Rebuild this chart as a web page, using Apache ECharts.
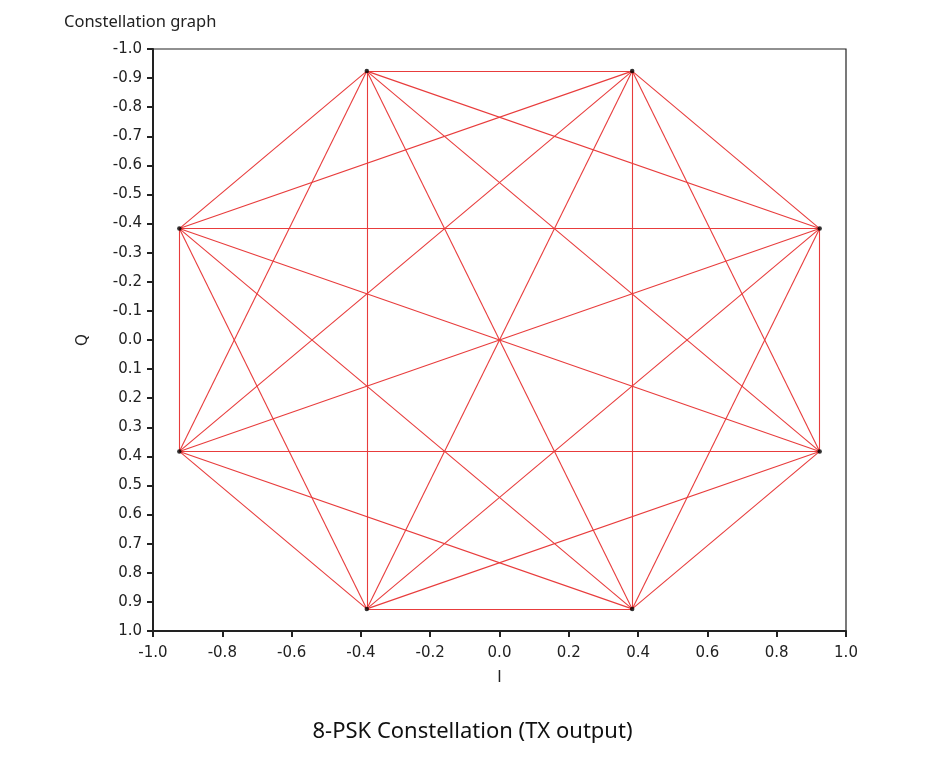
<!DOCTYPE html>
<html>
<head>
<meta charset="utf-8">
<script src="https://cdn.jsdelivr.net/npm/echarts@6/dist/echarts.min.js"></script>
<style>
html,body{margin:0;padding:0;background:#fff;}
#chart{width:945px;height:765px;}
</style>
</head>
<body>
<div id="chart"></div>
<script>
// 8-PSK constellation symbols (I, Q)
const symbolI = [0.924, 0.383, -0.383, -0.924, -0.924, -0.383, 0.383, 0.924];
const symbolQ = [0.383, 0.924, 0.924, 0.383, -0.383, -0.924, -0.924, -0.383];
const xTicks = [-1.0, -0.8, -0.6, -0.4, -0.2, 0.0, 0.2, 0.4, 0.6, 0.8, 1.0];
const yTicks = [-1.0, -0.9, -0.8, -0.7, -0.6, -0.5, -0.4, -0.3, -0.2, -0.1, 0.0, 0.1, 0.2, 0.3, 0.4, 0.5, 0.6, 0.7, 0.8, 0.9, 1.0];

// transitions between every pair of symbols
const edges = [];
for (let a = 0; a < symbolI.length; a++) {
  for (let b = a + 1; b < symbolI.length; b++) {
    edges.push({coords: [[symbolI[a], symbolQ[a]], [symbolI[b], symbolQ[b]]]});
  }
}
const pts = symbolI.map((v, i) => [v, symbolQ[i]]);

const fmt = v => { if (Math.abs(v) < 1e-9) return '0.0'; return Number(v).toFixed(1); };
const tickFont = '"DejaVu Sans", sans-serif';
const font = '"Noto Sans", "DejaVu Sans", sans-serif';

const chart = echarts.init(document.getElementById('chart'), null, {renderer: 'canvas'});
chart.setOption({
  animation: false,
  backgroundColor: '#ffffff',
  title: [
    {text: 'Constellation graph', left: 59, top: 9,
     textStyle: {fontFamily: font, fontSize: 16.5, fontWeight: 'normal', color: '#222'}},
    {text: '8-PSK Constellation (TX output)', left: 'center', top: 716,
     textStyle: {fontFamily: font, fontSize: 22, fontWeight: 'normal', color: '#111'}}
  ],
  grid: {left: 153, top: 49, width: 693, height: 582, show: true, borderColor: '#222', borderWidth: 1.2, backgroundColor: '#fff'},
  xAxis: {
    type: 'value', min: -1, max: 1, interval: 0.2,
    name: 'I', nameLocation: 'middle', nameGap: 40,
    nameTextStyle: {fontFamily: tickFont, fontSize: 15, color: '#222'},
    axisLine: {show: true, onZero: false, lineStyle: {color: '#222', width: 2}},
    axisTick: {show: true, length: 6, lineStyle: {color: '#222', width: 2}},
    axisLabel: {formatter: fmt, fontFamily: tickFont, fontSize: 15, color: '#222', margin: 15},
    splitLine: {show: false}
  },
  yAxis: {
    type: 'value', min: -1, max: 1, interval: 0.1, inverse: true,
    name: 'Q', nameLocation: 'middle', nameGap: 62, nameRotate: 90,
    nameTextStyle: {fontFamily: tickFont, fontSize: 15, color: '#222'},
    axisLine: {show: true, onZero: false, lineStyle: {color: '#222', width: 2}},
    axisTick: {show: true, length: 6, lineStyle: {color: '#222', width: 2}},
    axisLabel: {formatter: fmt, fontFamily: tickFont, fontSize: 15, color: '#222', margin: 11},
    splitLine: {show: false}
  },
  series: [
    {
      type: 'lines', coordinateSystem: 'cartesian2d', polyline: false,
      lineStyle: {color: '#e83c3c', width: 1.1, opacity: 1},
      data: edges, silent: true, z: 2
    },
    {
      type: 'scatter', data: pts, symbol: 'circle', symbolSize: 4.5,
      itemStyle: {color: '#000'}, z: 3, silent: true
    }
  ]
});
</script>
</body>
</html>
